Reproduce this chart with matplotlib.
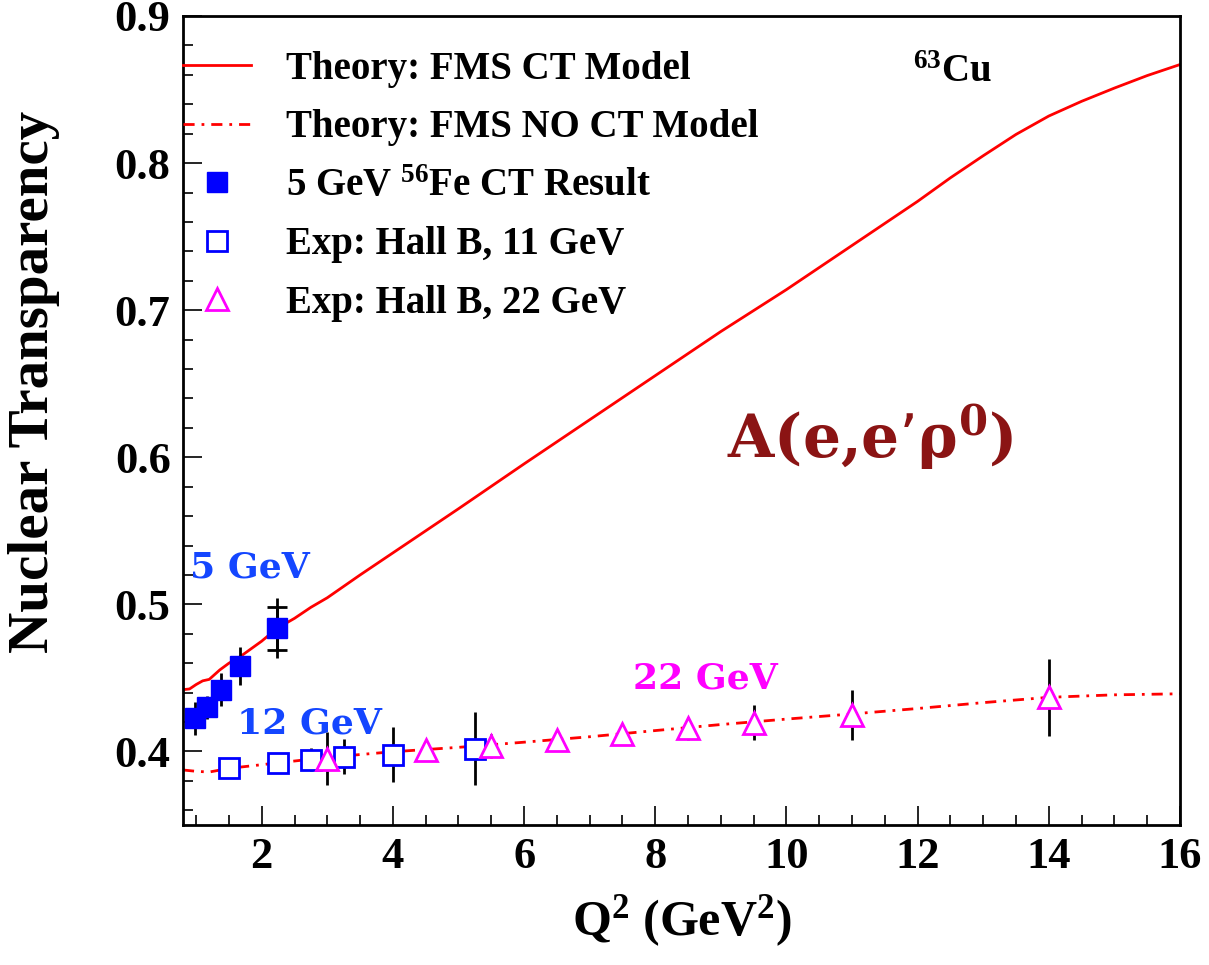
import matplotlib
matplotlib.use('Agg')
import matplotlib.pyplot as plt
from matplotlib.ticker import MultipleLocator

# FMS theory curves
q2_ct = [0.8, 0.9, 1.0, 1.1, 1.2, 1.36, 1.5, 1.67, 2.0, 2.23, 2.5, 2.75, 3.0, 3.5, 4.0,
         5.0, 6.0, 7.0, 8.0, 9.0, 10.0, 11.0, 12.0, 12.5, 13.0, 13.5, 14.0, 14.5, 15.0, 15.5, 16.0]
t_ct = [0.442, 0.4425, 0.4455, 0.448, 0.449, 0.4554, 0.460, 0.4644, 0.475, 0.4836, 0.4905, 0.498,
        0.5045, 0.520, 0.535, 0.565, 0.5955, 0.6255, 0.6555, 0.6855, 0.714, 0.744, 0.774, 0.790,
        0.805, 0.8195, 0.832, 0.842, 0.851, 0.8595, 0.867]

q2_noct = [0.8, 1.0, 1.2, 1.5, 2.0, 2.5, 3.0, 4.0, 5.0, 6.0, 7.0, 8.0, 9.0, 10.0, 11.0, 12.0,
           13.0, 14.0, 15.0, 16.0]
t_noct = [0.3874, 0.3865, 0.386, 0.3885, 0.391, 0.3935, 0.396, 0.3998, 0.4028, 0.4063, 0.410,
          0.4142, 0.4183, 0.422, 0.4255, 0.4292, 0.4332, 0.4368, 0.4385, 0.4392]

# 5 GeV 56Fe CT result
q2_5gev = [0.98, 1.17, 1.38, 1.67, 2.23]
t_5gev = [0.4225, 0.4299, 0.4421, 0.4581, 0.4836]
err_5gev = [0.0113, 0.008, 0.0113, 0.013, 0.0204]
err_5gev_inner = [0.0, 0.0, 0.0, 0.0, 0.0143]

# Hall B projections
q2_11gev = [1.5, 2.25, 2.75, 3.25, 4.0, 5.25]
t_11gev = [0.3889, 0.3922, 0.3945, 0.3964, 0.3976, 0.4020]
err_11gev = [0.004, 0.005, 0.008, 0.012, 0.0187, 0.025]

q2_22gev = [3.0, 4.5, 5.5, 6.5, 7.5, 8.5, 9.5, 11.0, 14.0]
t_22gev = [0.3952, 0.4010, 0.4037, 0.4078, 0.4119, 0.4157, 0.4195, 0.4248, 0.4368]
err_22gev = [0.0177, 0.004, 0.008, 0.004, 0.005, 0.008, 0.012, 0.017, 0.026]

plt.rcParams['font.family'] = ['Liberation Serif', 'DejaVu Serif']
plt.rcParams['font.weight'] = 'bold'
plt.rcParams['axes.labelweight'] = 'bold'
plt.rcParams['mathtext.default'] = 'regular'

W, H = 1209, 965
fig = plt.figure(figsize=(W / 100, H / 100), dpi=100)
ax = fig.add_axes([183 / W, 1 - 825 / H, 997 / W, 809 / H])

ax.plot(q2_ct, t_ct, color='red', lw=2, label='Theory: FMS CT Model', zorder=2)
ax.plot(q2_noct, t_noct, color='red', lw=2, dashes=[4, 2.5, 1, 2.5],
        label='Theory: FMS NO CT Model', zorder=2)

# error bars (black), markers drawn on top
ax.errorbar(q2_5gev, t_5gev, yerr=err_5gev, fmt='none', ecolor='black', elinewidth=2, zorder=3)
ax.errorbar(q2_5gev[-1:], t_5gev[-1:], yerr=err_5gev_inner[-1:], fmt='none', ecolor='black',
            elinewidth=2, capsize=7, capthick=2, zorder=3)
ax.errorbar(q2_11gev, t_11gev, yerr=err_11gev, fmt='none', ecolor='black', elinewidth=2, zorder=3)
ax.errorbar(q2_22gev, t_22gev, yerr=err_22gev, fmt='none', ecolor='black', elinewidth=2, zorder=3)

ax.plot(q2_5gev, t_5gev, 's', ms=14.5, color='blue', label='5 GeV $^{56}$Fe CT Result', zorder=4)
ax.plot(q2_11gev, t_11gev, 's', ms=14.5, mfc='white', mec='blue', mew=2,
        label='Exp: Hall B, 11 GeV', zorder=4)
ax.plot(q2_22gev, t_22gev, '^', ms=16, mfc='white', mec='magenta', mew=2,
        label='Exp: Hall B, 22 GeV', zorder=4)

ax.set_xlim(0.8, 16)
ax.set_ylim(0.35, 0.9)
ax.xaxis.set_major_locator(MultipleLocator(2))
ax.xaxis.set_minor_locator(MultipleLocator(0.5))
ax.yaxis.set_major_locator(MultipleLocator(0.1))
ax.yaxis.set_minor_locator(MultipleLocator(0.02))
ax.tick_params(which='both', direction='in', top=False, right=False, width=1.2, labelsize=32, pad=9)
ax.tick_params(which='major', length=13.5)
ax.tick_params(which='minor', length=7)
for s in ax.spines.values():
    s.set_linewidth(2)

ax.set_xlabel('Q$^2$ (GeV$^2$)', fontsize=36)
ax.xaxis.set_label_coords(0.5, -0.084)
ax.set_ylabel('Nuclear Transparency', fontsize=41)
ax.yaxis.set_label_coords(-0.1234, 0.548)

ax.legend(loc='upper left', bbox_to_anchor=(0, 1 - 35 / 809), borderaxespad=0, borderpad=0,
          frameon=False, fontsize=28, handlelength=1.75, handletextpad=0.9, labelspacing=0.55,
          numpoints=1)

ax.text(0.732, 0.918, '$^{63}$Cu', transform=ax.transAxes, fontsize=28)
ax.text(0.9, 0.518, '5 GeV', color='#1446ff', fontsize=26, family='DejaVu Serif', weight='bold')
ax.text(1.62, 0.4125, '12 GeV', color='#1446ff', fontsize=26, family='DejaVu Serif', weight='bold')
ax.text(7.655, 0.4431, '22 GeV', color='#ff00ff', fontsize=26, family='DejaVu Serif', weight='bold')
ax.text(9.1, 0.5995, 'A(e,e\u2019\u03c1$^0$)', color='#8b1414', fontsize=43,
        family='DejaVu Serif', weight='bold')

fig.savefig('out.png', dpi=100)
